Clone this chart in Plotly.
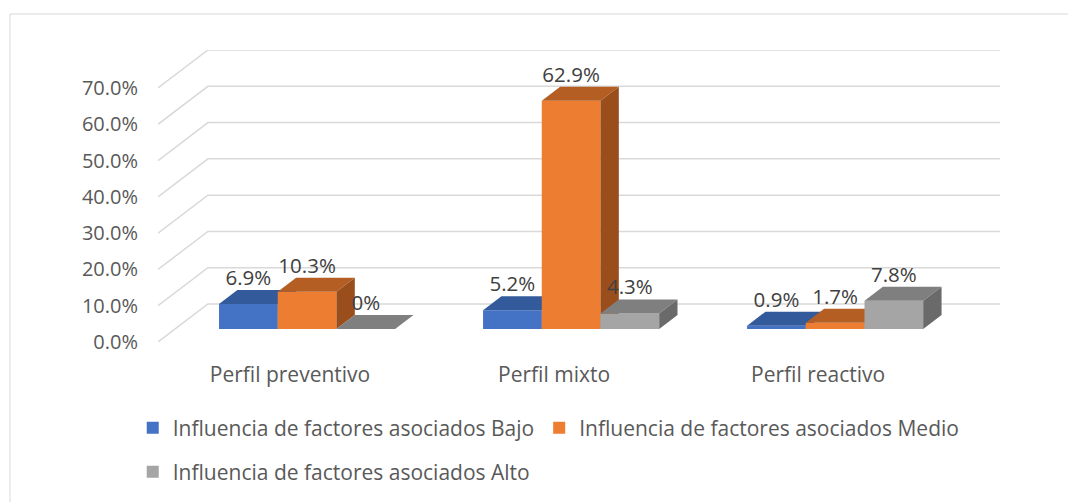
import plotly.graph_objects as go

# ---------------- data ----------------
categories = ["Perfil preventivo", "Perfil mixto", "Perfil reactivo"]
series_names = [
    "Influencia de factores asociados Bajo",
    "Influencia de factores asociados Medio",
    "Influencia de factores asociados Alto",
]
bajo = [6.9, 5.2, 0.9]
medio = [10.3, 62.9, 1.7]
alto = [0.0, 4.3, 7.8]
labels_bajo = ["6.9%", "5.2%", "0.9%"]
labels_medio = ["10.3%", "62.9%", "1.7%"]
labels_alto = ["0%", "4.3%", "7.8%"]
y_ticks = [0, 10, 20, 30, 40, 50, 60, 70]
y_tick_labels = ["0.0%", "10.0%", "20.0%", "30.0%", "40.0%", "50.0%", "60.0%", "70.0%"]

# ---------------- styling / 3-D geometry ----------------
front_colors = ["#4472C4", "#ED7D31", "#A5A5A5"]
top_colors = ["#335A9B", "#B45E24", "#7F7F7F"]
side_colors = ["#2C4F8A", "#9A4E1C", "#6A6A6A"]
FONT = "Open Sans"
DX = 0.189          # floor depth in category units
DY = 10.48          # floor depth in % units
F0 = 0.342          # front plane of bars (fraction of floor depth)
FD = 0.368          # bar depth (fraction of floor depth)
GROUP = 0.667
W = GROUP / 3

values = [bajo, medio, alto]
labels = [labels_bajo, labels_medio, labels_alto]

fig = go.Figure()

# gridlines on floor-left wall + back wall
gx, gy = [], []
for v in y_ticks:
    gx += [-0.5, -0.5 + DX, 2.5 + DX, None]
    gy += [v, v + DY, v + DY, None]
fig.add_trace(go.Scatter(x=gx, y=gy, mode="lines", line=dict(color="#D9D9D9", width=1.5),
                         hoverinfo="skip", showlegend=False, zorder=-1))

base = F0 * DY
ddx, ddy = FD * DX, FD * DY
for s, (vals, col) in enumerate(zip(values, front_colors)):
    xs = [i - GROUP / 2 + s * W + F0 * DX for i in range(len(categories))]
    fig.add_trace(go.Bar(
        x=[x0 + W / 2 for x0 in xs], y=vals, base=[base] * len(vals), width=[W] * len(vals),
        marker=dict(color=col, line=dict(width=0)), name=series_names[s],
        legend="legend" if s < 2 else "legend2", zorder=s * 2, hoverinfo="skip",
    ))
    for x0, v in zip(xs, vals):
        top = base + v
        fig.add_trace(go.Scatter(
            x=[x0, x0 + W, x0 + W + ddx, x0 + ddx, x0],
            y=[top, top, top + ddy, top + ddy, top],
            fill="toself", fillcolor=top_colors[s], mode="lines", line=dict(width=0, color=top_colors[s]),
            showlegend=False, hoverinfo="skip", zorder=s * 2))
        fig.add_trace(go.Scatter(
            x=[x0 + W, x0 + W + ddx, x0 + W + ddx, x0 + W, x0 + W],
            y=[base, base + ddy, top + ddy, top, base],
            fill="toself", fillcolor=side_colors[s], mode="lines", line=dict(width=0, color=side_colors[s]),
            showlegend=False, hoverinfo="skip", zorder=s * 2))
    fig.add_trace(go.Scatter(
        x=[x0 + W / 2 for x0 in xs], y=[base + v + ddy for v in vals],
        mode="text", text=labels[s], textposition="top center",
        textfont=dict(family=FONT, size=20.5, color="#404040"),
        showlegend=False, hoverinfo="skip", zorder=10))

# outer chart border
fig.add_shape(type="rect", xref="paper", yref="paper",
              x0=-0.1758, y0=-0.6, x1=1.2, y1=1.1233,
              line=dict(color="#D9D9D9", width=1), layer="below")

fig.update_layout(
    width=1068, height=494,
    margin=dict(l=150, r=76, t=42, b=160, autoexpand=False),
    paper_bgcolor="white", plot_bgcolor="white",
    barmode="overlay",
    font=dict(family=FONT, size=20, color="#595959"),
    xaxis=dict(range=[-0.5, 2.5 + DX], tickvals=[0, 1, 2], ticktext=categories,
               showgrid=False, zeroline=False, showline=False, ticks="",
               ticklabelstandoff=18, tickfont=dict(size=21, color="#595959")),
    yaxis=dict(range=[0, 70 + DY], tickvals=y_ticks, ticktext=y_tick_labels,
               showgrid=False, zeroline=False, showline=False, ticks="",
               ticklabelstandoff=19, tickfont=dict(size=20, color="#595959")),
    legend=dict(orientation="h", x=-0.03, xanchor="left", y=-0.225, yanchor="top",
                font=dict(size=21, color="#595959"), bgcolor="rgba(0,0,0,0)"),
    legend2=dict(orientation="h", x=-0.03, xanchor="left", y=-0.375, yanchor="top",
                 font=dict(size=21, color="#595959"), bgcolor="rgba(0,0,0,0)"),
    showlegend=True,
)

fig.write_html("out.html")
